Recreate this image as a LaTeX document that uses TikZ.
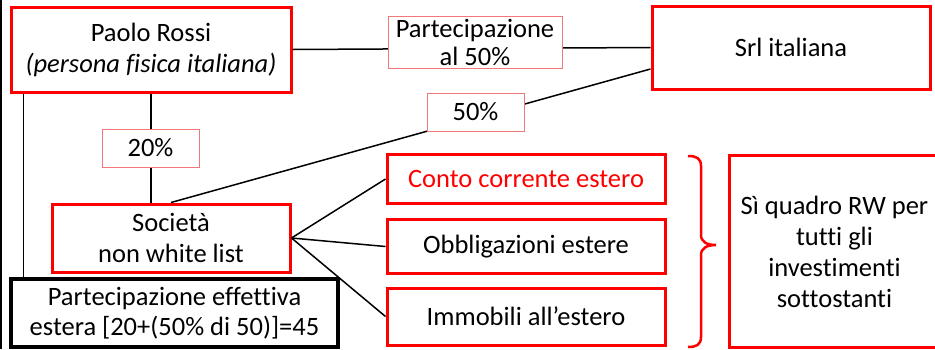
\documentclass[tikz,border=0pt]{standalone}
\usepackage{fontspec}
\setmainfont{Carlito}[Ligatures=NoCommon]
\definecolor{bred}{HTML}{FF0000}
\definecolor{lred}{HTML}{F07878}
\begin{document}
\begin{tikzpicture}[x=1pt,y=-1pt,
  redbox/.style={draw=bred,line width=3pt,fill=white,align=center,inner sep=0pt,
    font=\fontsize{26.5}{31}\selectfont},
  blackbox/.style={draw=black,line width=3.5pt,fill=white,align=center,inner sep=0pt,
    font=\fontsize{26.5}{30}\selectfont},
  lbl/.style={draw=lred,line width=1pt,fill=white,align=center,inner sep=0pt,
    font=\fontsize{26.5}{28}\selectfont},
  conn/.style={draw=black,line width=1.5pt}]
\useasboundingbox (0,0) rectangle (935,349);
\fill[white] (0,0) rectangle (935,349);

% nodes
\node[redbox,minimum width=280pt,minimum height=85pt] (paolo) at (151,49.5)
  {Paolo Rossi\\\textit{(persona fisica italiana)}};
\node[redbox,minimum width=278pt,minimum height=83pt] (srl) at (791,47.5) {Srl italiana};
\node[redbox,minimum width=238pt,minimum height=68pt] (soc) at (171,238) {Società\\non white list};
\node[redbox,minimum width=278pt,minimum height=49pt,text=bred] (conto) at (526,179) {Conto corrente estero};
\node[redbox,minimum width=278pt,minimum height=54pt] (obbl) at (526,246.5) {Obbligazioni estere};
\node[redbox,minimum width=278pt,minimum height=57pt] (imm) at (526,316.5) {Immobili all’estero};
\node[redbox,minimum width=260pt,minimum height=192pt] (rw) at (859,251) {};
\node[font=\fontsize{26.5}{31}\selectfont,align=center] (rwtext) at (834.5,252)
  {Sì quadro RW per\\tutti gli\\investimenti\\sottostanti};

% connectors
\draw[conn] (paolo.east) -- (srl.west);
\draw[conn] (paolo.south) -- (paolo.south |- soc.north);
\coordinate (pl) at ([xshift=14pt]paolo.south west);
\draw[conn] ([yshift=-21.5pt]srl.west) -- (soc.north);
\draw[conn] (soc.east) -- (conto.west);
\draw[conn] (soc.east) -- (obbl.west);

\node[blackbox,minimum width=327pt,minimum height=68pt] (eff) at (174.5,313)
  {Partecipazione effettiva\\estera [20+(50\% di 50)]=45};
\draw[conn] (pl) -- (pl |- eff.north);
\draw[conn] (soc.east) -- (imm.west);

% labels
\node[lbl,minimum width=174pt,minimum height=52pt] (l50a) at (475,42) {Partecipazione\\al 50\%};
\node[lbl,minimum width=97pt,minimum height=38pt] (l50b) at (475.5,112) {50\%};
\node[lbl,minimum width=97pt,minimum height=38pt] (l20) at (150.5,148) {20\%};

% brace
\draw[bred,line width=2.5pt] (688,156) .. controls (696,156) and (701,158) .. (701,166)
  -- (701,235) .. controls (701,242) and (707,245) .. (716,245)
  .. controls (707,245) and (701,248) .. (701,255)
  -- (701,337) .. controls (701,345) and (696,347) .. (688,347);

% left border line
\draw[black,line width=1.5pt] (1,0) -- (1,349);
\end{tikzpicture}
\end{document}
